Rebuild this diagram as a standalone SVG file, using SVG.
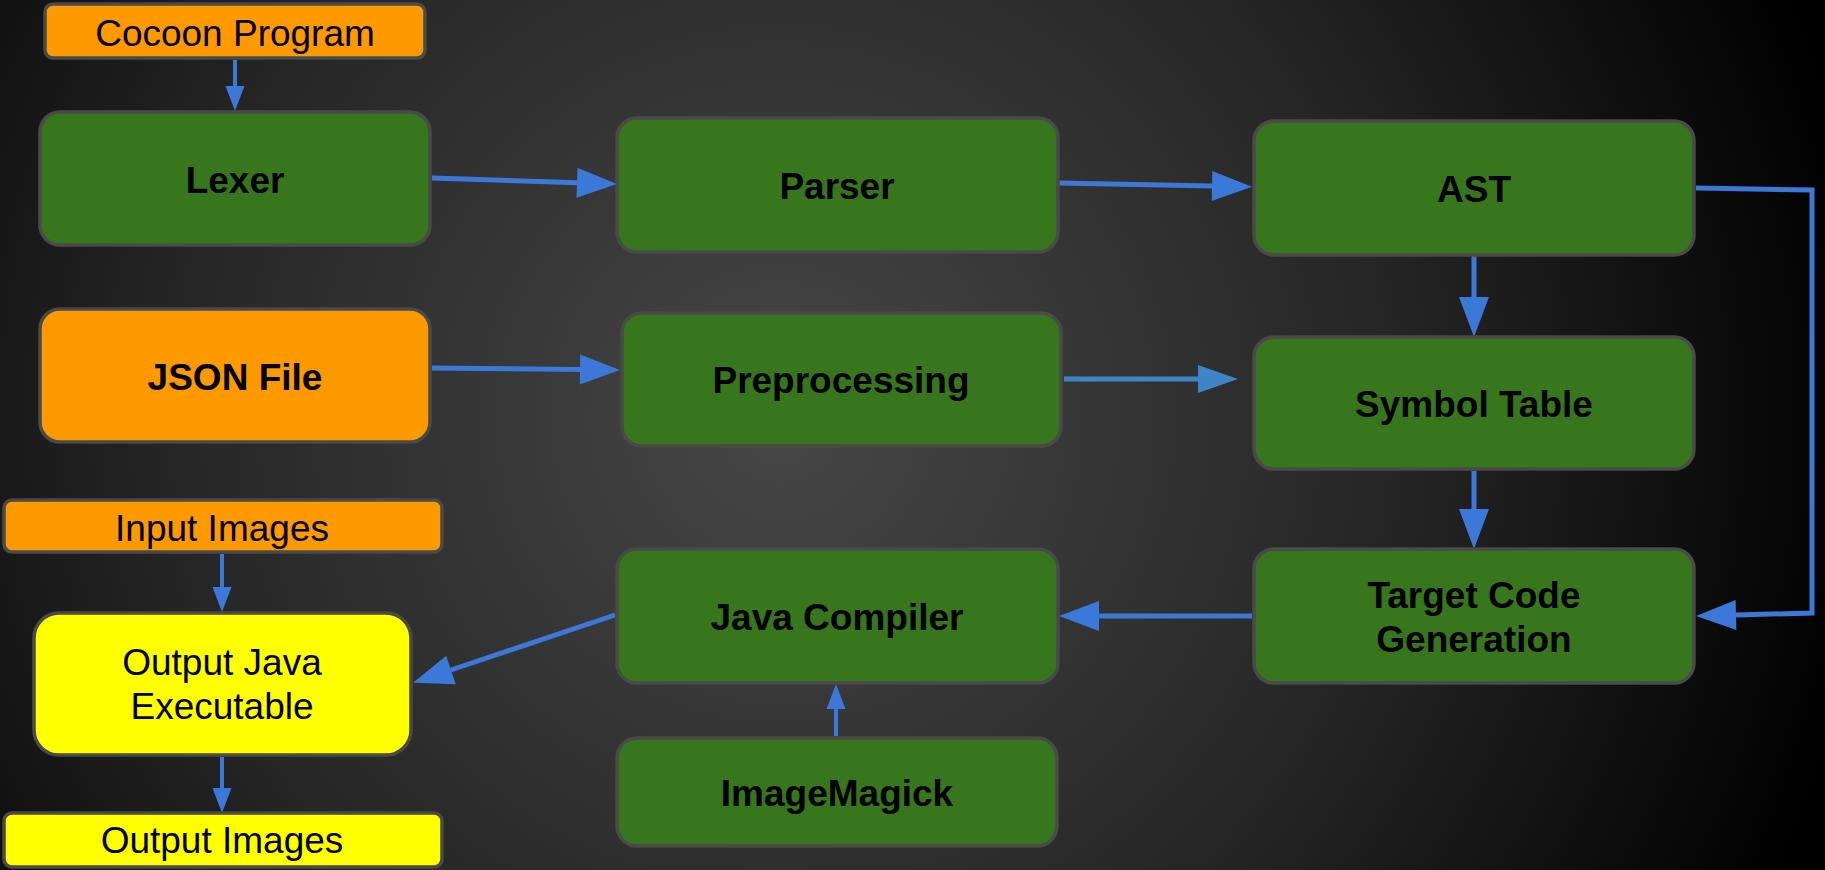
<svg xmlns="http://www.w3.org/2000/svg" width="1825" height="870" viewBox="0 0 1825 870">
<defs>
<radialGradient id="bg" gradientUnits="userSpaceOnUse" cx="780" cy="420" r="1100">
<stop offset="0" stop-color="#474747"/>
<stop offset="0.55" stop-color="#262626"/>
<stop offset="1" stop-color="#000000"/>
</radialGradient>
<marker id="big" markerUnits="userSpaceOnUse" markerWidth="40" markerHeight="30" refX="0" refY="15" orient="auto" overflow="visible">
<path d="M0,0 L40,15 L0,30 Z" fill="#3c78d8"/>
</marker>
<marker id="bigL" markerUnits="userSpaceOnUse" markerWidth="40" markerHeight="28" refX="0" refY="14" orient="auto" overflow="visible">
<path d="M0,0 L40,14 L0,28 Z" fill="#3d85c6"/>
</marker>
<marker id="small" markerUnits="userSpaceOnUse" markerWidth="25" markerHeight="19" refX="0" refY="9.5" orient="auto" overflow="visible">
<path d="M0,0 L25,9.5 L0,19 Z" fill="#3c78d8"/>
</marker>
</defs>
<style>
.n{stroke:#4a4a4a;stroke-width:3.5}
.g{fill:#38761d}
.o{fill:#ff9900}
.y{fill:#ffff00}
.t{font-family:"Liberation Sans",Arial,sans-serif;font-size:37px;fill:#000;text-anchor:middle}
.b{font-weight:bold}
.c{fill:none;stroke:#3c78d8;stroke-width:5}
.cs{fill:none;stroke:#3c78d8;stroke-width:4}
</style>
<rect width="1825" height="870" fill="url(#bg)"/>
<g id="connectors">
<path class="cs" d="M235,60 L235,86" marker-end="url(#small)"/>
<path class="c" d="M432,178 L577,182.7" marker-end="url(#big)"/>
<path class="c" d="M1059,183 L1212,186" marker-end="url(#big)"/>
<path class="c" d="M1474,256 L1474,297" marker-end="url(#big)"/>
<path class="c" d="M1696,188 L1812,190 L1812,613 L1736,615" marker-end="url(#big)"/>
<path class="c" d="M1474,471 L1474,509" marker-end="url(#big)"/>
<path class="c" d="M1252,616 L1099,616" marker-end="url(#big)"/>
<path class="cs" d="M836,736 L836,709" marker-end="url(#small)"/>
<path class="c" d="M615,615 L451,670" marker-end="url(#big)"/>
<path class="cs" d="M222,554 L222,587" marker-end="url(#small)"/>
<path class="cs" d="M222,757 L222,788" marker-end="url(#small)"/>
<path class="c" d="M432,368 L580,369.6" marker-end="url(#big)"/>
<path class="c" style="stroke:#3d85c6" d="M1064,379 L1198,379" marker-end="url(#bigL)"/>
</g>
<g id="cocoon"><rect class="n o" x="45" y="4" width="380" height="54" rx="8"/><text class="t" x="235" y="46">Cocoon Program</text></g>
<g id="lexer"><rect class="n g" x="40" y="112" width="390" height="133" rx="20"/><text class="t b" x="235" y="193">Lexer</text></g>
<g id="parser"><rect class="n g" x="617" y="118" width="441" height="134" rx="20"/><text class="t b" x="837" y="199">Parser</text></g>
<g id="ast"><rect class="n g" x="1254" y="121" width="440" height="134" rx="20"/><text class="t b" x="1474" y="202">AST</text></g>
<g id="json"><rect class="n o" x="40" y="309" width="390" height="133" rx="20"/><text class="t b" x="235" y="390">JSON File</text></g>
<g id="preprocessing"><rect class="n g" x="622" y="313" width="439" height="133" rx="20"/><text class="t b" x="841" y="393">Preprocessing</text></g>
<g id="symbol"><rect class="n g" x="1254" y="337" width="440" height="132" rx="20"/><text class="t b" x="1474" y="417">Symbol Table</text></g>
<g id="input"><rect class="n o" x="4" y="500" width="438" height="52" rx="8"/><text class="t" x="222" y="541">Input Images</text></g>
<g id="javacompiler"><rect class="n g" x="617" y="549" width="441" height="134" rx="20"/><text class="t b" x="837" y="630">Java Compiler</text></g>
<g id="target"><rect class="n g" x="1254" y="549" width="440" height="134" rx="20"/><text class="t b" x="1474" y="608">Target Code</text><text class="t b" x="1474" y="652">Generation</text></g>
<g id="outputjava"><rect class="n y" x="34" y="613" width="377" height="142" rx="25"/><text class="t" x="222" y="675">Output Java</text><text class="t" x="222" y="719">Executable</text></g>
<g id="imagemagick"><rect class="n g" x="617" y="738" width="440" height="108" rx="20"/><text class="t b" x="837" y="806">ImageMagick</text></g>
<g id="outputimages"><rect class="n y" x="4" y="813" width="438" height="54" rx="8"/><text class="t" x="222" y="853">Output Images</text></g>
</svg>
